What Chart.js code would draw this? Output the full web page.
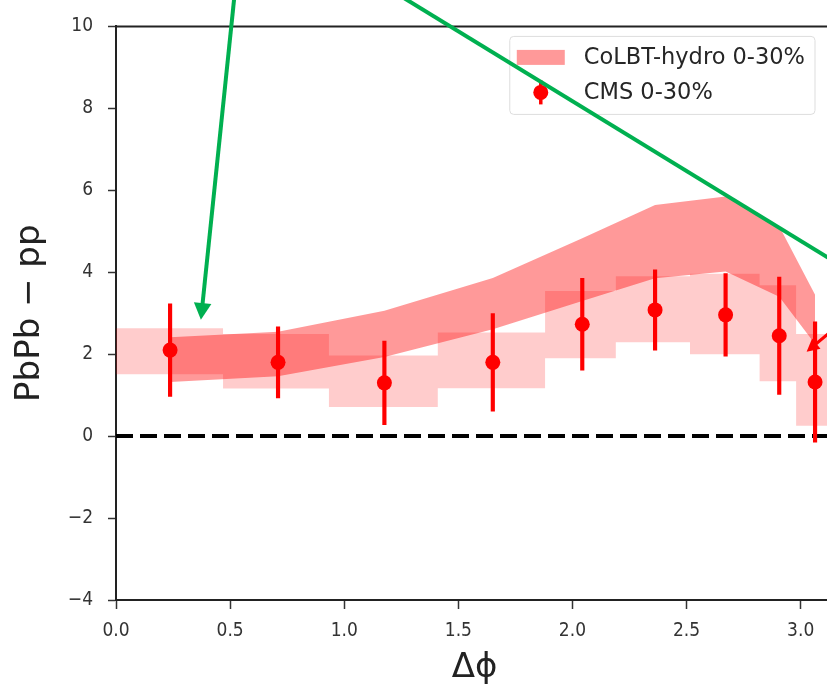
<!DOCTYPE html>
<html>
<head>
<meta charset="utf-8">
<script src="https://cdn.jsdelivr.net/npm/chart.js@4"></script>
<style>
  html, body { margin: 0; padding: 0; background: #fff; overflow: hidden; }
  #wrap { width: 850px; height: 689px; }
</style>
</head>
<body>
<div id="wrap"><canvas id="grafico"></canvas></div>
<script>
// CMS 0-30% points with stat. errors
const cmsX = [0.237, 0.71, 1.176, 1.651, 2.043, 2.362, 2.671, 2.906, 3.063];
const cmsY = [2.10, 1.80, 1.30, 1.80, 2.73, 3.08, 2.96, 2.45, 1.32];
const cmsErr = [1.13, 0.87, 1.02, 1.19, 1.12, 0.98, 1.01, 1.43, 1.47];

// systematic boxes: bin edges, top and bottom of each bin
const binEdges = [0, 0.469, 0.933, 1.41, 1.88, 2.19, 2.515, 2.82, 2.98, Math.PI];
const sysTop = [2.63, 2.49, 1.97, 2.53, 3.54, 3.90, 3.96, 3.68, 2.49];
const sysBottom = [1.51, 1.16, 0.71, 1.17, 1.90, 2.29, 2.00, 1.34, 0.25];

// CoLBT-hydro band
const modelX = [0.237, 0.71, 1.176, 1.651, 2.043, 2.362, 2.671, 2.906, 3.063];
const modelUpper = [2.41, 2.55, 3.06, 3.86, 4.83, 5.64, 5.85, 5.12, 3.45];
const modelLower = [1.32, 1.46, 1.93, 2.61, 3.30, 3.85, 4.02, 3.40, 2.25];

const xTicks = [0, 0.5, 1.0, 1.5, 2.0, 2.5, 3.0];
const yTicks = [-4, -2, 0, 2, 4, 6, 8, 10];

// arrows drawn over the figure (data coordinates)
const setas = [
    { from: [0.52, 10.8], to: [0.372, 2.84], color: '#00b050', width: 4, head: true },
    { from: [1.23, 10.8], to: [3.216, 4.03], color: '#00b050', width: 4, head: false },
    { from: [3.216, 2.94], to: [3.026, 2.06], color: '#ff0000', width: 3, head: true }
];

const fonteTicks = "'Liberation Sans Narrow', 'DejaVu Sans Condensed', 'DejaVu Sans', sans-serif";

function pontosDegrau(valores) {
    const pts = valores.map((v, i) => ({ x: binEdges[i], y: v }));
    pts.push({ x: binEdges[binEdges.length - 1], y: valores[valores.length - 1] });
    return pts;
}

function desenharSeta(ctx, x0, y0, x1, y1, s) {
    const ang = Math.atan2(y1 - y0, x1 - x0);
    const hl = s.width * 4.2, hw = s.width * 2.2;
    ctx.strokeStyle = s.color;
    ctx.fillStyle = s.color;
    ctx.lineWidth = s.width;
    ctx.lineCap = 'butt';
    ctx.beginPath();
    ctx.moveTo(x0, y0);
    if (s.head) {
        ctx.lineTo(x1 - Math.cos(ang) * hl * 0.8, y1 - Math.sin(ang) * hl * 0.8);
    } else {
        ctx.lineTo(x1, y1);
    }
    ctx.stroke();
    if (s.head) {
        const bx = x1 - Math.cos(ang) * hl, by = y1 - Math.sin(ang) * hl;
        ctx.beginPath();
        ctx.moveTo(x1, y1);
        ctx.lineTo(bx + Math.sin(ang) * hw, by - Math.cos(ang) * hw);
        ctx.lineTo(bx - Math.sin(ang) * hw, by + Math.cos(ang) * hw);
        ctx.closePath();
        ctx.fill();
    }
}

const extras = {
    id: 'extras',
    afterDraw(chart) {
        const { ctx, chartArea, scales } = chart;
        ctx.save();

        // top and right spines
        ctx.strokeStyle = '#222';
        ctx.lineWidth = 2;
        ctx.beginPath();
        ctx.moveTo(chartArea.left, chartArea.top);
        ctx.lineTo(chartArea.right, chartArea.top);
        ctx.lineTo(chartArea.right, chartArea.bottom);
        ctx.stroke();

        // legend box, matplotlib style
        const dsBanda = chart.data.datasets.find(d => d.id === 'banda');
        const dsCms = chart.data.datasets.find(d => d.id === 'cms');
        ctx.font = "22.5px 'DejaVu Sans'";
        const tw = Math.max(ctx.measureText(dsBanda.label).width, ctx.measureText(dsCms.label).width);
        const w = 7 + 48 + 19 + tw + 10;
        const h = 78;
        const lx = chartArea.right - 18 - w;
        const ly = chartArea.top + 10;
        ctx.fillStyle = 'rgba(255,255,255,0.8)';
        ctx.strokeStyle = '#dddddd';
        ctx.lineWidth = 1;
        ctx.beginPath();
        ctx.roundRect(lx, ly, w, h, 4);
        ctx.fill();
        ctx.stroke();

        const r1 = ly + 21, r2 = ly + 56;
        ctx.fillStyle = dsBanda.backgroundColor;
        ctx.fillRect(lx + 7, r1 - 7.5, 48, 15);
        ctx.strokeStyle = 'red';
        ctx.lineWidth = 3.5;
        ctx.beginPath();
        ctx.moveTo(lx + 31, r2 - 12);
        ctx.lineTo(lx + 31, r2 + 12);
        ctx.stroke();
        ctx.fillStyle = 'red';
        ctx.beginPath();
        ctx.arc(lx + 31, r2, 7.5, 0, Math.PI * 2);
        ctx.fill();

        ctx.fillStyle = '#262626';
        ctx.textBaseline = 'middle';
        ctx.textAlign = 'left';
        ctx.fillText(dsBanda.label, lx + 74, r1 + 1);
        ctx.fillText(dsCms.label, lx + 74, r2 + 1);

        // annotation arrows
        setas.forEach(s => {
            desenharSeta(ctx,
                scales.x.getPixelForValue(s.from[0]), scales.y.getPixelForValue(s.from[1]),
                scales.x.getPixelForValue(s.to[0]), scales.y.getPixelForValue(s.to[1]), s);
        });
        ctx.restore();
    }
};

const ctx = document.getElementById('grafico');

const grafico = new Chart(ctx, {
    type: 'line',
    data: {
        datasets: [
            {
                id: 'cms',
                type: 'scatter',
                label: 'CMS 0-30%',
                data: cmsX.map((x, i) => ({ x: x, y: cmsY[i] })),
                backgroundColor: 'red',
                borderColor: 'red',
                pointRadius: 7.5,
                pointBorderWidth: 0,
                showLine: false
            },
            {
                type: 'bar',
                label: 'CMS erro',
                data: cmsX.map((x, i) => ({ x: x, y: [cmsY[i] - cmsErr[i], cmsY[i] + cmsErr[i]] })),
                backgroundColor: 'red',
                borderWidth: 0,
                barThickness: 3.5,
                grouped: false
            },
            {
                label: 'zero',
                data: [{ x: 0, y: 0 }, { x: Math.PI, y: 0 }],
                borderColor: '#000',
                borderWidth: 4,
                borderDash: [17, 7],
                pointRadius: 0,
                fill: false
            },
            {
                id: 'banda',
                label: 'CoLBT-hydro 0-30%',
                data: modelX.map((x, i) => ({ x: x, y: modelUpper[i] })),
                borderWidth: 0,
                borderColor: 'rgba(0,0,0,0)',
                backgroundColor: 'rgba(255,0,0,0.4)',
                pointRadius: 0,
                tension: 0,
                fill: '+1'
            },
            {
                label: 'banda inferior',
                data: modelX.map((x, i) => ({ x: x, y: modelLower[i] })),
                borderWidth: 0,
                borderColor: 'rgba(0,0,0,0)',
                pointRadius: 0,
                tension: 0,
                fill: false
            },
            {
                label: 'sys topo',
                data: pontosDegrau(sysTop),
                stepped: true,
                borderWidth: 0,
                borderColor: 'rgba(0,0,0,0)',
                backgroundColor: 'rgba(255,0,0,0.2)',
                pointRadius: 0,
                fill: '+1'
            },
            {
                label: 'sys base',
                data: pontosDegrau(sysBottom),
                stepped: true,
                borderWidth: 0,
                borderColor: 'rgba(0,0,0,0)',
                pointRadius: 0,
                fill: false
            }
        ]
    },
    options: {
        responsive: true,
        maintainAspectRatio: false,
        animation: false,
        layout: { padding: { left: 0, top: 22, right: 17, bottom: 0 } },
        plugins: {
            legend: { display: false },
            tooltip: { enabled: false }
        },
        scales: {
            x: {
                type: 'linear',
                min: 0,
                max: Math.PI,
                offset: false,
                afterFit: (s) => { s.height = 89; },
                afterBuildTicks: (s) => { s.ticks = xTicks.map(v => ({ value: v })); },
                ticks: {
                    font: { family: fonteTicks, size: 19 },
                    color: '#333',
                    padding: 11,
                    maxRotation: 0,
                    callback: (v) => Number(v).toFixed(1)
                },
                grid: { drawOnChartArea: false, offset: false, drawTicks: true, tickLength: 9, tickColor: '#333', tickWidth: 1.5 },
                border: { display: true, color: '#222', width: 2 },
                title: {
                    display: true,
                    text: 'Δϕ',
                    font: { family: "'DejaVu Sans'", size: 34 },
                    color: '#222',
                    padding: { top: 0, bottom: 0 }
                }
            },
            y: {
                min: -4,
                max: 10,
                afterFit: (s) => { s.width = 116; },
                afterBuildTicks: (s) => { s.ticks = yTicks.map(v => ({ value: v })); },
                ticks: {
                    font: { family: fonteTicks, size: 19 },
                    color: '#333',
                    padding: 15,
                    callback: (v) => (v < 0 ? '\u2212' + Math.abs(v) : String(v))
                },
                grid: { drawOnChartArea: false, drawTicks: true, tickLength: 8, tickColor: '#333', tickWidth: 1.5 },
                border: { display: true, color: '#222', width: 2 },
                title: {
                    display: true,
                    text: 'PbPb \u2212 pp',
                    font: { family: "'DejaVu Sans'", size: 34 },
                    color: '#222',
                    padding: { top: 10, bottom: 0 }
                }
            }
        }
    },
    plugins: [extras]
});
</script>
</body>
</html>
